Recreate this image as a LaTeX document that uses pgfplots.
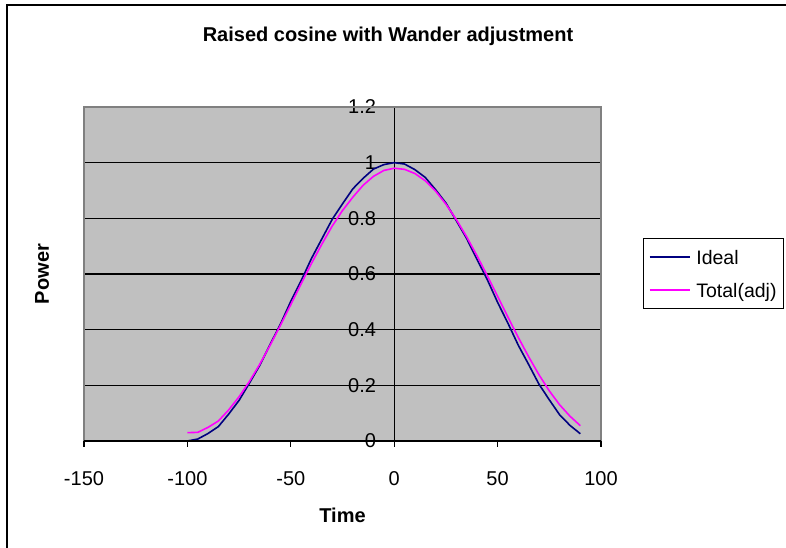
\documentclass[border=0pt]{standalone}
\usepackage{fontspec}
\setmainfont{Liberation Sans}
\usepackage{pgfplots}
\pgfplotsset{compat=1.18}
\definecolor{plotgray}{RGB}{192,192,192}
\definecolor{framegray}{RGB}{128,128,128}
\definecolor{idealblue}{RGB}{0,0,128}
\definecolor{totalmag}{RGB}{255,0,255}
\pgfplotstableread{
x y
-100 0
-95 0.007
-90 0.027
-85 0.052
-80 0.097
-75 0.146
-70 0.208
-65 0.272
-60 0.347
-55 0.420
-50 0.502
-45 0.576
-40 0.656
-35 0.726
-30 0.796
-25 0.852
-20 0.906
-15 0.944
-10 0.977
-5 0.993
0 1.000
5 0.995
10 0.975
15 0.947
20 0.903
25 0.855
30 0.792
35 0.728
40 0.653
45 0.580
50 0.498
55 0.423
60 0.344
65 0.275
70 0.204
75 0.148
80 0.094
85 0.056
90 0.026
}\idealtab
\pgfplotstableread{
x y
-100 0.030
-95 0.031
-90 0.049
-85 0.072
-80 0.112
-75 0.159
-70 0.214
-65 0.276
-60 0.344
-55 0.416
-50 0.490
-45 0.565
-40 0.638
-35 0.707
-30 0.772
-25 0.828
-20 0.876
-15 0.919
-10 0.951
-5 0.972
0 0.980
5 0.976
10 0.961
15 0.935
20 0.898
25 0.851
30 0.796
35 0.734
40 0.666
45 0.594
50 0.520
55 0.445
60 0.372
65 0.303
70 0.238
75 0.180
80 0.130
85 0.089
90 0.055
}\totaltab
\begin{document}
\begin{tikzpicture}[x=1bp,y=1bp]
\path[use as bounding box] (0,0) rectangle (786,548);
\draw[line width=2bp] (6.5,0) -- (6.5,543) -- (790,543);
\begin{axis}[
  at={(84bp,107bp)}, anchor=south west,
  width=517bp, height=334bp, scale only axis,
  xmin=-150, xmax=100, ymin=0, ymax=1.2,
  axis lines=middle,
  hide obscured x ticks=false, hide obscured y ticks=false,
  axis line style={-, black, line width=1.3bp},
  axis background/.style={fill=plotgray},
  xtick={-150,-100,-50,0,50,100},
  xticklabels={-150,-100,-50,0,50,100},
  ytick={0,0.2,0.4,0.6,0.8,1,1.2},
  yticklabels={0,0.2,0.4,0.6,0.8,1,1.2},
  tick align=outside,
  major tick length=6bp,
  tick style={black, line width=1.3bp},
  ymajorgrids=true,
  grid style={black, line width=1.3bp},
  ticklabel style={font=\fontsize{20bp}{24bp}\selectfont},
  xticklabel style={anchor=base, inner sep=0pt, yshift=-39bp},
  yticklabel style={anchor=east, inner sep=0pt, xshift=-12bp},
  title={\bfseries Raised cosine with Wander adjustment},
  title style={font=\fontsize{20bp}{24bp}\selectfont, anchor=base, inner sep=0pt, at={(axis description cs:0.588,1.1796)}},
  xlabel={\bfseries Time},
  xlabel style={font=\fontsize{20bp}{24bp}\selectfont, anchor=base, inner sep=0pt, at={(axis description cs:0.5,-0.2455)}},
  ylabel={\bfseries Power},
  ylabel style={font=\fontsize{20bp}{24bp}\selectfont, anchor=base, inner sep=0pt, rotate=90, at={(axis description cs:-0.0677,0.5)}},
  legend style={at={(axis description cs:1.0812,0.6078)}, anchor=north west,
    draw=black, line width=1.5bp, fill=white,
    font=\fontsize{19.5bp}{22bp}\selectfont,
    inner xsep=5bp, inner ysep=5bp, row sep=6bp, column sep=4bp,
    nodes={inner sep=2bp, text height=19bp, text depth=4bp}},
  legend cell align=left,
  legend image code/.code={\draw[#1] (0bp,0bp) -- (40bp,0bp);},
  clip=false,
]
\addplot[idealblue, line width=1.6bp] table[x=x,y=y] {\idealtab};
\addlegendentry{Ideal}
\addplot[totalmag, line width=1.6bp] table[x=x,y=y] {\totaltab};
\addlegendentry{Total(adj)}
\draw[framegray, line width=2bp] (rel axis cs:0,0) -- (rel axis cs:0,1) -- (rel axis cs:1,1) -- (rel axis cs:1,0);
\draw[black, line width=1.3bp] (rel axis cs:0,0) -- (rel axis cs:1,0);
\end{axis}
\end{tikzpicture}
\end{document}
